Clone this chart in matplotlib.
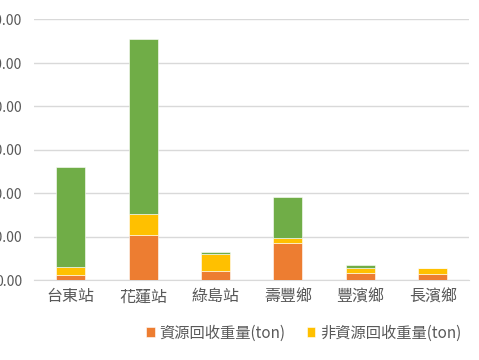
import matplotlib
matplotlib.use("Agg")
import matplotlib.pyplot as plt
import numpy as np
from matplotlib.ticker import FuncFormatter

plt.rcParams['font.family'] = ['Noto Sans CJK TC', 'DejaVu Sans']

# data (ton)
stations = ['台東站', '花蓮站', '綠島站', '壽豐鄉', '豐濱鄉', '長濱鄉']
recycle = [23, 206, 42, 170, 34, 29]
non_recycle = [37, 96, 78, 22, 22, 27]
other = [460, 806, 8, 188, 14, 0]
yticks = [0, 200, 400, 600, 800, 1000, 1200]

c_orange = '#ED7D31'
c_yellow = '#FFC000'
c_green = '#70AD47'
txt = '#595959'

fig = plt.figure(figsize=(4.79, 3.6), dpi=100)
ax = fig.add_axes([0.072, 0.222, 0.907, 0.725])

x = np.arange(len(stations))
w = 0.4
b1 = np.array(recycle)
b2 = b1 + np.array(non_recycle)
ax.bar(x, recycle, w, color=c_orange, edgecolor='white', linewidth=0.4,
       label='資源回收重量(ton)', zorder=3)
ax.bar(x, non_recycle, w, bottom=b1, color=c_yellow, edgecolor='white', linewidth=0.4,
       label='非資源回收重量(ton)', zorder=3)
ax.bar(x, other, w, bottom=b2, color=c_green, edgecolor='white', linewidth=0.4, zorder=3)

ax.set_xlim(-0.5, len(stations) - 0.5)
ax.set_ylim(0, 1200)
ax.set_yticks(yticks)
ax.yaxis.set_major_formatter(FuncFormatter(lambda v, p: f'{v:,.2f}'))
ax.grid(axis='y', color='#d9d9d9', linewidth=1, zorder=0)
ax.set_xticks(x)
ax.set_xticklabels(stations)
ax.tick_params(axis='y', length=0, pad=9, labelsize=10, labelcolor=txt)
ax.tick_params(axis='x', length=0, pad=6, labelsize=11.5, labelcolor=txt)
for s in ['top', 'right', 'left']:
    ax.spines[s].set_visible(False)
ax.spines['bottom'].set_color('#d9d9d9')

fig.legend(loc='center', bbox_to_anchor=(0.634, 0.075), ncol=2, frameon=False,
           fontsize=11, handlelength=0.55, handleheight=0.55, handletextpad=0.3,
           columnspacing=1.4, labelcolor=txt)

plt.savefig('out.png', dpi=100)
